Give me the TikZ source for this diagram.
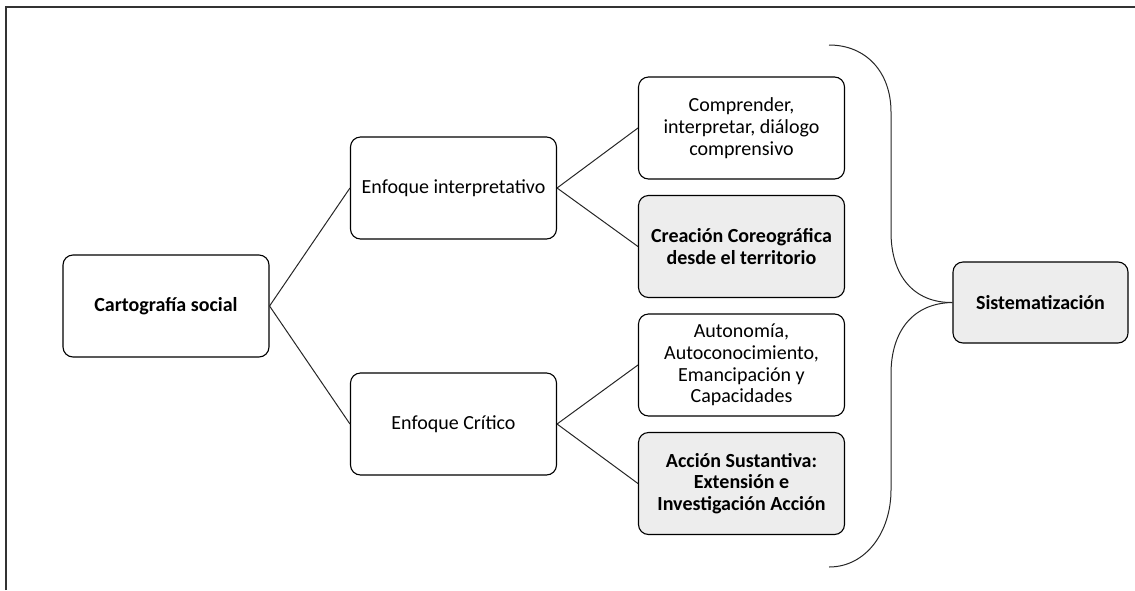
\documentclass[tikz,border=0pt]{standalone}
\usepackage{fontspec}
\setmainfont{Carlito}
\begin{document}
\begin{tikzpicture}[x=1pt,y=-1pt,
    caja/.style={draw,rounded corners=10pt,line width=1.1pt,minimum width=206pt,minimum height=102pt,
        align=center,inner sep=0pt,font=\fontsize{20}{21.7}\selectfont},
    gris/.style={caja,fill=black!7,font=\fontsize{20}{21.7}\selectfont\bfseries},
    rama/.style={draw=black!85,line width=1pt}]
    \useasboundingbox(0,0)rectangle(1135,590);
    \draw[line width=1.6pt,black!80](6,590)--(6,7)--(1135,7);
    \node[caja,font=\fontsize{20}{21.7}\selectfont\bfseries](cs)at(166,306){Cartografía social};
    \node[caja](ei)at(453.5,188){Enfoque interpretativo};
    \node[caja](ec)at(453.5,424){Enfoque Crítico};
    \node[caja](c1)at(741.5,128){Comprender,\\interpretar, diálogo\\comprensivo};
    \node[gris](c2)at(741.5,246.5){Creación Coreográfica\\desde el territorio};
    \node[caja](c3)at(741.5,365){Autonomía,\\Autoconocimiento,\\Emancipación y\\Capacidades};
    \node[gris](c4)at(741.5,483.5){Acción Sustantiva:\\Extensión e\\Investigación Acción};
    \node[gris,minimum width=175pt,minimum height=81pt](si)at(1040.5,302.5){Sistematización};
    \coordinate(arriba)at(829,45);
    \coordinate(abajo)at(829,567);
    \draw[rama](cs.east)--(ei.west);
    \draw[rama](cs.east)--(ec.west);
    \draw[rama](ei.east)--(c1.west);
    \draw[rama](ei.east)--(c2.west);
    \draw[rama](ec.east)--(c3.west);
    \draw[rama](ec.east)--(c4.west);
    % llave
    \draw[rama](arriba)..controls(866,45)and(891,72)..(891,112)--(891,232)
        ..controls(891,276)and(914,303)..(si.west);
    \draw[rama](si.west)..controls(914,303)and(891,330)..(891,374)--(891,490)
        ..controls(891,532)and(866,567)..(abajo);
\end{tikzpicture}
\end{document}
